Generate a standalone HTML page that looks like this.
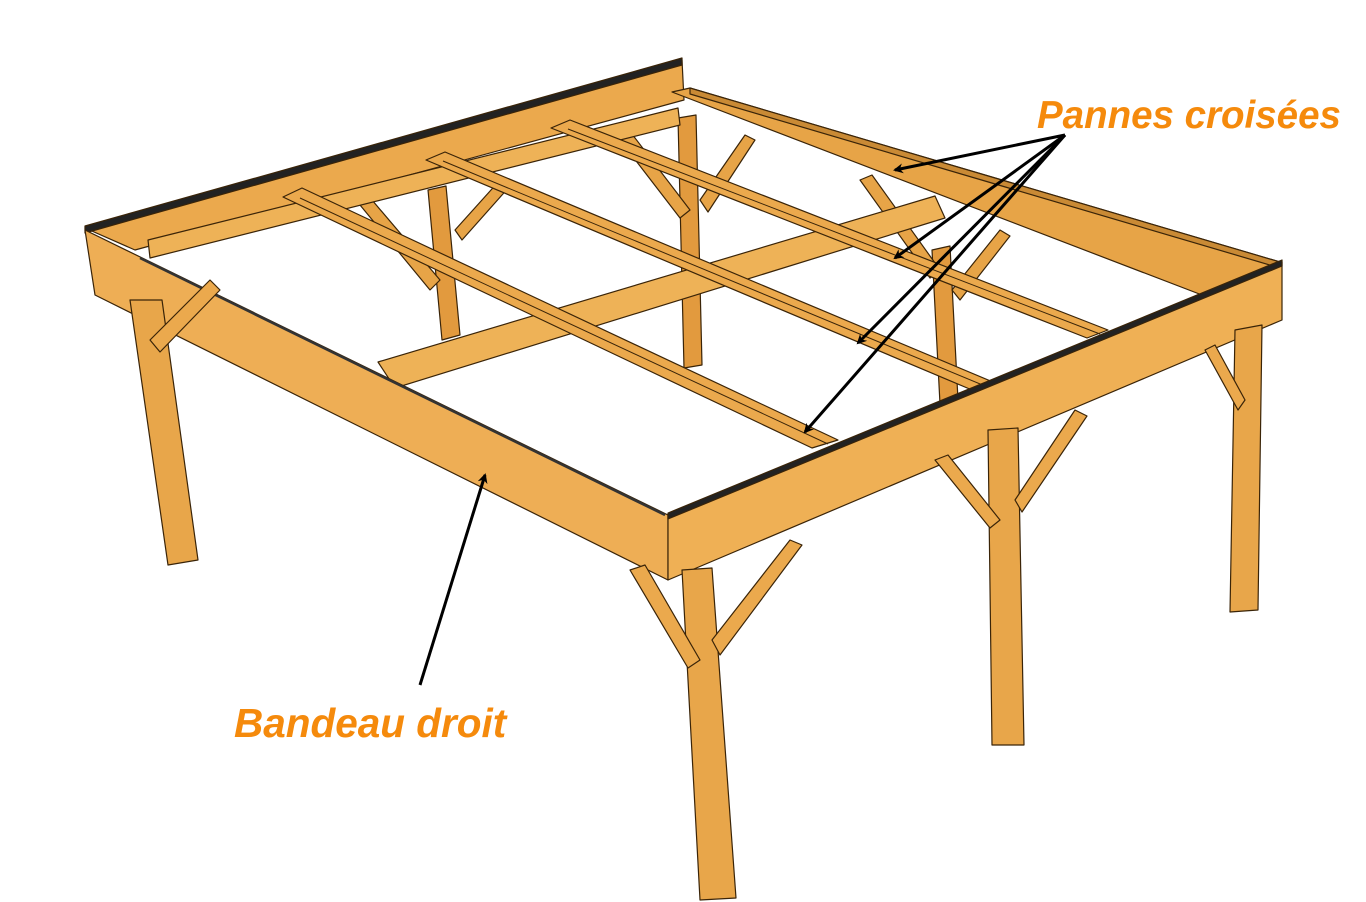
<!DOCTYPE html>
<html><head><meta charset="utf-8"><style>
html,body{margin:0;padding:0;background:#fff;}
svg{display:block}
</style></head><body>
<svg width="1366" height="902" viewBox="0 0 1366 902" xmlns="http://www.w3.org/2000/svg">
<defs>
<marker id="ah" markerWidth="10" markerHeight="10" refX="8" refY="5" orient="auto" markerUnits="userSpaceOnUse">
<path d="M0,0 L10,5 L0,10 L3,5 z" fill="#000"/></marker>
</defs>
<g stroke="#3a2408" stroke-width="1.2" stroke-linejoin="round">
<!-- back posts -->
<polygon points="428,190 446,186 460,335 442,340" fill="#e29a3e"/>
<polygon points="678,118 696,115 702,365 684,368" fill="#e29a3e"/>
<polygon points="932,250 950,246 958,400 940,404" fill="#e29a3e"/>
<!-- back braces -->
<polygon points="360,205 372,200 440,280 430,290" fill="#e7a447"/>
<polygon points="455,230 500,180 510,186 462,240" fill="#e7a447"/>
<polygon points="620,140 632,134 690,210 680,218" fill="#e7a447"/>
<polygon points="700,200 745,135 755,140 708,212" fill="#e7a447"/>
<polygon points="860,180 872,175 940,270 930,278" fill="#e7a447"/>
<polygon points="952,290 1000,230 1010,236 960,300" fill="#e7a447"/>
<!-- back beam -->
<polygon points="85,228 682,60 684,100 135,250" fill="#eba94d"/>
<polygon points="85,226 682,58 682,65 85,233" fill="#222"/>
<!-- right side beam -->
<polygon points="672,92 690,88 1280,262 1280,285 1215,300" fill="#e7a447"/>
<polygon points="690,88 1280,262 1280,268 690,94" fill="#c98a35"/>
<!-- cross beams -->
<polygon points="148,240 678,108 680,125 150,258" fill="#eeb257"/>
<polygon points="378,362 935,196 945,218 395,388" fill="#eeb257"/>
<!-- purlins -->
<polygon points="283,197 302,188 838,440 812,448" fill="#eba94d"/>
<polygon points="426,160 445,152 993,382 972,390" fill="#eba94d"/>
<polygon points="551,128 570,120 1108,330 1087,338" fill="#eba94d"/>
<line x1="300" y1="198" x2="828" y2="444" stroke-width="1"/>
<line x1="443" y1="161" x2="985" y2="386" stroke-width="1"/>
<line x1="568" y1="129" x2="1100" y2="334" stroke-width="1"/>
<!-- front-left beam (Bandeau droit) -->
<polygon points="85,230 668,515 668,580 95,295" fill="#eeae55"/>
<polyline points="140,258 665,515" fill="none" stroke="#333" stroke-width="2.5"/>
<!-- front-right beam -->
<polygon points="668,515 1282,262 1282,320 668,580" fill="#efb055"/>
<polygon points="668,513 1282,260 1282,266 668,519" fill="#222"/>
<!-- front posts -->
<polygon points="130,300 162,300 198,560 168,565" fill="#e8a64a"/>
<polygon points="682,570 712,568 736,898 700,900" fill="#e8a64a"/>
<polygon points="988,430 1018,428 1024,745 992,745" fill="#e8a64a"/>
<polygon points="1235,330 1262,325 1258,610 1230,612" fill="#e8a64a"/>
<!-- front braces -->
<polygon points="150,340 210,280 220,290 160,352" fill="#eba94d"/>
<polygon points="630,570 645,565 700,660 688,668" fill="#eba94d"/>
<polygon points="712,640 790,540 802,545 720,655" fill="#eba94d"/>
<polygon points="935,460 948,455 1000,520 990,528" fill="#eba94d"/>
<polygon points="1015,500 1075,410 1087,416 1022,512" fill="#eba94d"/>
<polygon points="1205,350 1215,345 1245,400 1238,410" fill="#eba94d"/>
</g>
<g stroke="#000" stroke-width="3" fill="none" marker-end="url(#ah)">
<line x1="1065" y1="135" x2="895" y2="170"/>
<line x1="1065" y1="135" x2="895" y2="258"/>
<line x1="1065" y1="135" x2="858" y2="343"/>
<line x1="1065" y1="135" x2="805" y2="432"/>
<line x1="420" y1="685" x2="485" y2="475"/>
</g>
<text x="1037" y="128" font-family="Liberation Sans, sans-serif" font-size="38.5" font-weight="bold" font-style="italic" fill="#f58a0c">Pannes croisées</text>
<text x="234" y="737" font-family="Liberation Sans, sans-serif" font-size="40.5" font-weight="bold" font-style="italic" fill="#f58a0c">Bandeau droit</text>
</svg>
</body></html>
